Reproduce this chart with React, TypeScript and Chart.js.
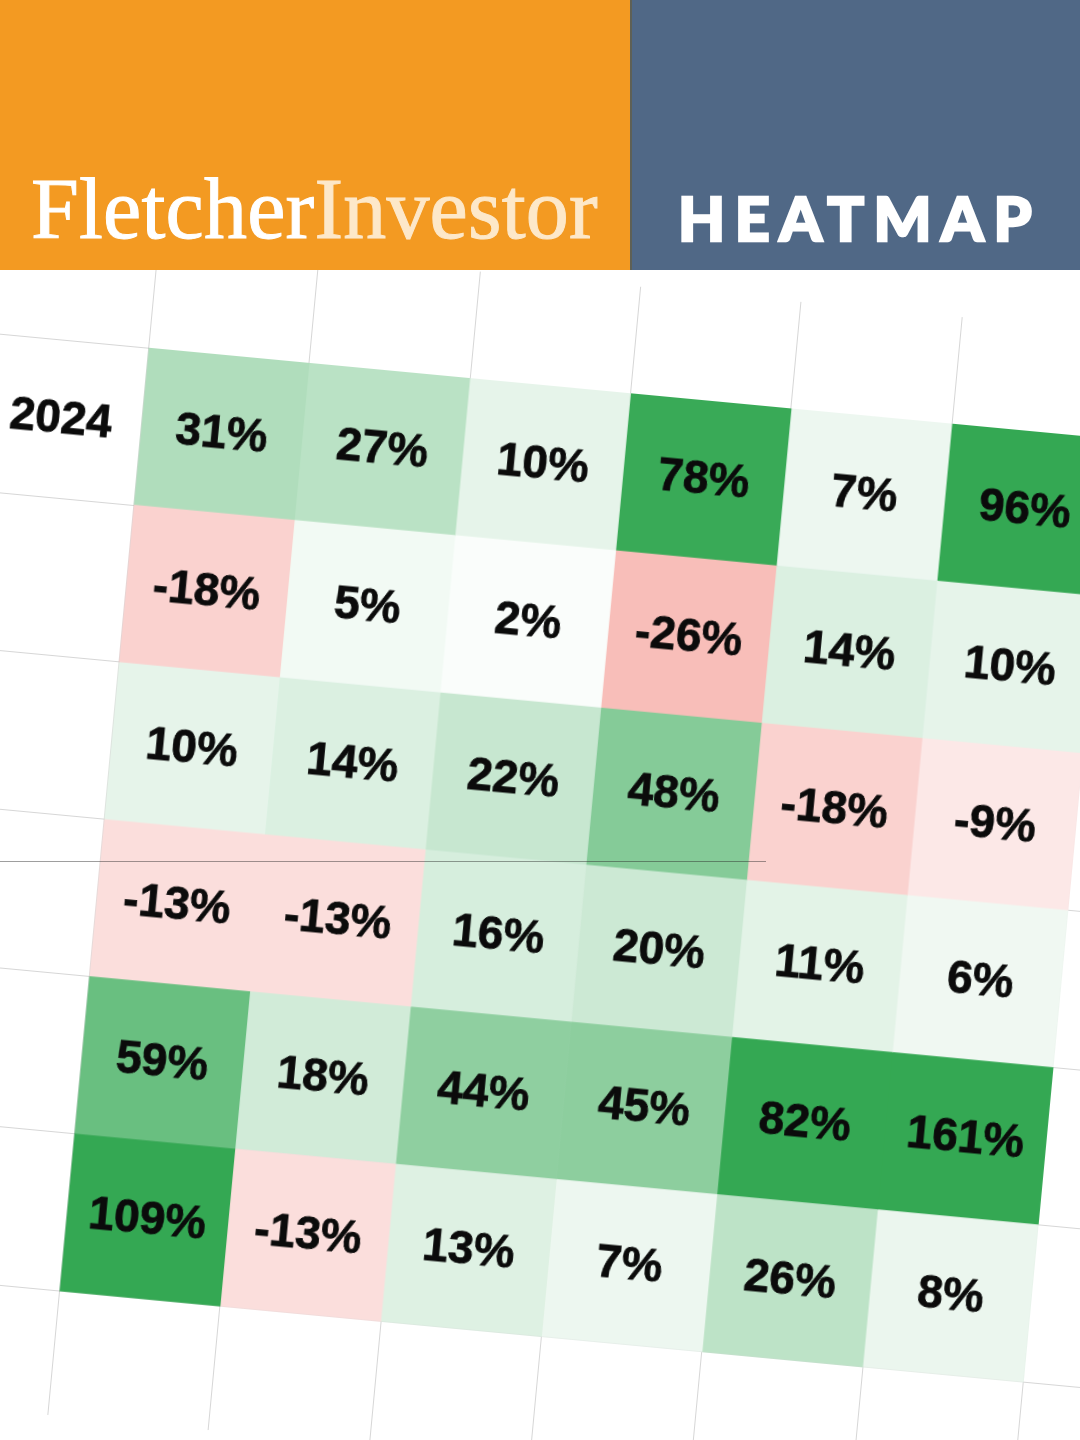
import React, { useEffect, useRef } from 'react';
import { Chart, registerables } from 'chart.js';

Chart.register(...registerables);

// ---- data ----
const rowLabels = ['2024', '', '', '', '', ''];
const row1 = [31, 27, 10, 78, 7, 96];
const row2 = [-18, 5, 2, -26, 14, 10];
const row3 = [10, 14, 22, 48, -18, -9];
const row4 = [-13, -13, 16, 20, 11, 6];
const row5 = [59, 18, 44, 45, 82, 161];
const row6 = [109, -13, 13, 7, 26, 8];
const rows = [row1, row2, row3, row4, row5, row6];
const columnIndex = [0, 1, 2, 3, 4, 5];

// ---- colour scale ----
const GREEN = [52, 168, 83];
const RED = [234, 67, 53];
const POS_FULL = 80;
const NEG_FULL = 75;

function cellColor(v: number): string {
  const target = v >= 0 ? GREEN : RED;
  const f = Math.min(Math.abs(v) / (v >= 0 ? POS_FULL : NEG_FULL), 1);
  const c = target.map((t) => Math.round(255 + (t - 255) * f));
  return `rgb(${c[0]},${c[1]},${c[2]})`;
}

const CANVAS_W = 1291;
const CANVAS_H = 1179;

const cellTextPlugin = {
  id: 'cellText',
  afterDraw(chart: any) {
    const { ctx, scales } = chart;
    const xs = scales.x;
    const ys = scales.y;
    ctx.save();
    ctx.fillStyle = '#0b0b0b';
    ctx.strokeStyle = '#0b0b0b';
    ctx.lineWidth = 0.8;
    ctx.font = 'bold 46px "Liberation Sans", Arial, sans-serif';
    ctx.textAlign = 'center';
    ctx.textBaseline = 'middle';
    const put = (t: string, x: number, y: number) => {
      ctx.fillText(t, x, y);
      ctx.strokeText(t, x, y);
    };
    rows.forEach((row, r) => {
      const cy = ys.getPixelForValue(r + 0.5);
      if (rowLabels[r]) {
        put(rowLabels[r], xs.getPixelForValue(-0.5), cy + 1);
      }
      row.forEach((v, c) => {
        put(`${v}%`, xs.getPixelForValue(c + 0.5), cy + 1);
      });
    });
    ctx.restore();
  },
};

function HeatmapChart() {
  const ref = useRef<HTMLCanvasElement | null>(null);
  useEffect(() => {
    if (!ref.current) return;
    const datasets = columnIndex.map((c) => ({
      label: `col${c + 1}`,
      data: rows.map((row, r) => ({ x: [c, c + 1], y: r + 0.5 })),
      backgroundColor: rows.map((row) => cellColor(row[c])),
      borderWidth: 0,
      grouped: false,
      barPercentage: 1,
      categoryPercentage: 1,
    }));
    const gridColor = 'rgba(0,0,0,0.16)';
    const chart = new Chart(ref.current, {
      type: 'bar',
      data: { datasets } as any,
      options: {
        indexAxis: 'y',
        responsive: false,
        animation: false,
        events: [],
        layout: { padding: 0 },
        plugins: {
          legend: { display: false },
          tooltip: { enabled: false },
          title: { display: false },
        },
        scales: {
          x: {
            type: 'linear',
            min: -1,
            max: 7,
            offset: false,
            z: 1,
            border: { display: false },
            grid: { color: gridColor, lineWidth: 1, drawTicks: false, offset: false },
            ticks: { display: false },
            afterBuildTicks: (s: any) => {
              s.ticks = [-1, 0, 1, 2, 3, 4, 5, 6, 7].map((v) => ({ value: v }));
            },
          },
          y: {
            type: 'linear',
            reverse: true,
            min: -0.68,
            max: 6.79,
            offset: false,
            z: 1,
            border: { display: false },
            grid: { color: gridColor, lineWidth: 1, drawTicks: false, offset: false },
            ticks: { display: false },
            afterBuildTicks: (s: any) => {
              s.ticks = [0, 1, 2, 3, 4, 5, 6].map((v) => ({ value: v }));
            },
          },
        },
      } as any,
      plugins: [cellTextPlugin],
    });
    return () => chart.destroy();
  }, []);
  return (
    <canvas
      ref={ref}
      width={CANVAS_W}
      height={CANVAS_H}
      style={{
        position: 'absolute',
        left: -2.26,
        top: 226.28,
        width: CANVAS_W,
        height: CANVAS_H,
        transform: 'rotate(5.4deg)',
        transformOrigin: '0 0',
      }}
    />
  );
}

export default function App() {
  return (
    <div
      style={{
        position: 'absolute',
        left: 0,
        top: 0,
        width: 1080,
        height: 1440,
        overflow: 'hidden',
        background: '#ffffff',
      }}
    >
      <HeatmapChart />
      <div
        style={{
          position: 'absolute',
          left: 0,
          top: 861,
          width: 766,
          height: 1,
          background: 'rgba(40,40,40,0.45)',
          zIndex: 3,
        }}
      />
      <div
        style={{
          position: 'absolute',
          left: 0,
          top: 0,
          width: 630,
          height: 270,
          background: '#f39a22',
          zIndex: 5,
        }}
      >
        <div
          style={{
            position: 'absolute',
            left: 31,
            top: 166,
            fontFamily: '"Liberation Serif", "Times New Roman", serif',
            fontSize: 86,
            lineHeight: 1,
            letterSpacing: 0.2,
            whiteSpace: 'nowrap',
          }}
        >
          <span style={{ color: '#ffffff', WebkitTextStroke: '1px #ffffff' } as any}>Fletcher</span>
          <span style={{ color: '#fde8c9', WebkitTextStroke: '1px #fde8c9' } as any}>Investor</span>
        </div>
      </div>
      <div
        style={{
          position: 'absolute',
          left: 630,
          top: 0,
          width: 450,
          height: 270,
          background: '#506886',
          borderLeft: '2px solid #5e6055',
          boxSizing: 'border-box',
          zIndex: 5,
        }}
      >
        <div
          style={{
            position: 'absolute',
            left: 46,
            top: 187,
            fontFamily: 'Lato, "Open Sans", sans-serif',
            fontWeight: 900,
            fontSize: 61,
            lineHeight: 1,
            letterSpacing: 9.5,
            color: '#ffffff',
            WebkitTextStroke: '2.5px #ffffff',
            whiteSpace: 'nowrap',
          } as any}
        >
          HEATMAP
        </div>
      </div>
    </div>
  );
}
